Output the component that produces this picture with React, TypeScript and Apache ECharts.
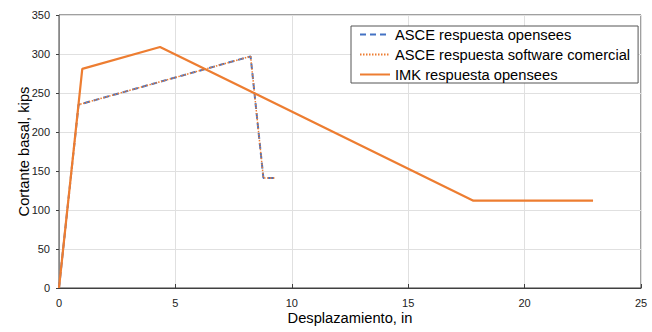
import React, { useEffect, useRef } from "react";
import * as echarts from "echarts";

// Pushover curves: displacement (in) vs. base shear (kips)
const asceOpenseesX = [0, 0.84, 8.23, 8.78, 9.28];
const asceOpenseesY = [0, 235, 297, 141, 141];
const asceComercialX = [0, 0.84, 8.23, 8.78, 9.28];
const asceComercialY = [0, 235, 297, 141, 141];
const imkX = [0, 1.0, 4.34, 17.8, 22.94];
const imkY = [0, 281, 309, 112, 112];

const seriesNames = [
  "ASCE respuesta opensees",
  "ASCE respuesta software comercial",
  "IMK respuesta opensees",
];

const pairs = (xs: number[], ys: number[]) => xs.map((x, i) => [x, ys[i]]);

const FONT = "'Liberation Sans', Arial, sans-serif";

export default function App() {
  const ref = useRef<HTMLDivElement>(null);
  useEffect(() => {
    if (!ref.current) return;
    const chart = echarts.init(ref.current, undefined, { renderer: "svg" });
    chart.setOption({
      animation: false,
      backgroundColor: "#ffffff",
      textStyle: { fontFamily: FONT },
      grid: {
        left: 59,
        right: 11,
        top: 15,
        bottom: 44,
        show: true,
        borderColor: "#404040",
        borderWidth: 1,
      },
      legend: {
        orient: "vertical",
        left: 351,
        top: 26,
        itemWidth: 30,
        itemHeight: 14,
        itemGap: 5,
        padding: [1, 8, 1, 8],
        borderColor: "#555555",
        borderWidth: 1,
        backgroundColor: "#ffffff",
        itemStyle: { opacity: 0 },
        textStyle: { fontSize: 14.7, color: "#000", fontFamily: FONT },
        data: seriesNames,
      },
      xAxis: {
        type: "value",
        min: 0,
        max: 25,
        interval: 5,
        name: "Desplazamiento, in",
        nameLocation: "middle",
        nameGap: 22,
        nameMoveOverlap: false,
        nameTextStyle: { fontSize: 14.7, color: "#000", fontFamily: FONT },
        axisLine: { lineStyle: { color: "#404040" } },
        axisTick: { inside: true, length: 4, lineStyle: { color: "#404040" } },
        axisLabel: { fontSize: 11, color: "#222", margin: 9, fontFamily: FONT },
        splitLine: { show: true, lineStyle: { color: "#e0e0e0" } },
      },
      yAxis: {
        type: "value",
        min: 0,
        max: 350,
        interval: 50,
        name: "Cortante basal, kips",
        nameLocation: "middle",
        nameGap: 28,
        nameMoveOverlap: false,
        nameTextStyle: { fontSize: 14.7, color: "#000", fontFamily: FONT },
        axisLine: { show: true, lineStyle: { color: "#888888" } },
        axisTick: { show: true, length: 3, lineStyle: { color: "#404040" } },
        axisLabel: { fontSize: 11, color: "#222", margin: 9, fontFamily: FONT },
        splitLine: { show: true, lineStyle: { color: "#e0e0e0" } },
      },
      series: [
        {
          name: seriesNames[0],
          type: "line",
          data: pairs(asceOpenseesX, asceOpenseesY),
          symbol: "none",
          lineStyle: { color: "#4472C4", width: 2, type: [6, 4] },
          itemStyle: { color: "#4472C4" },
        },
        {
          name: seriesNames[1],
          type: "line",
          data: pairs(asceComercialX, asceComercialY),
          symbol: "none",
          lineStyle: { color: "#ED7D31", width: 1.5, type: [1.5, 1.5] },
          itemStyle: { color: "#ED7D31" },
        },
        {
          name: seriesNames[2],
          type: "line",
          data: pairs(imkX, imkY),
          symbol: "none",
          lineStyle: { color: "#ED7D31", width: 2.2 },
          itemStyle: { color: "#ED7D31" },
        },
      ],
    });
    return () => chart.dispose();
  }, []);
  return (
    <div
      ref={ref}
      style={{ position: "absolute", left: 0, top: 0, width: 652, height: 332 }}
    />
  );
}
